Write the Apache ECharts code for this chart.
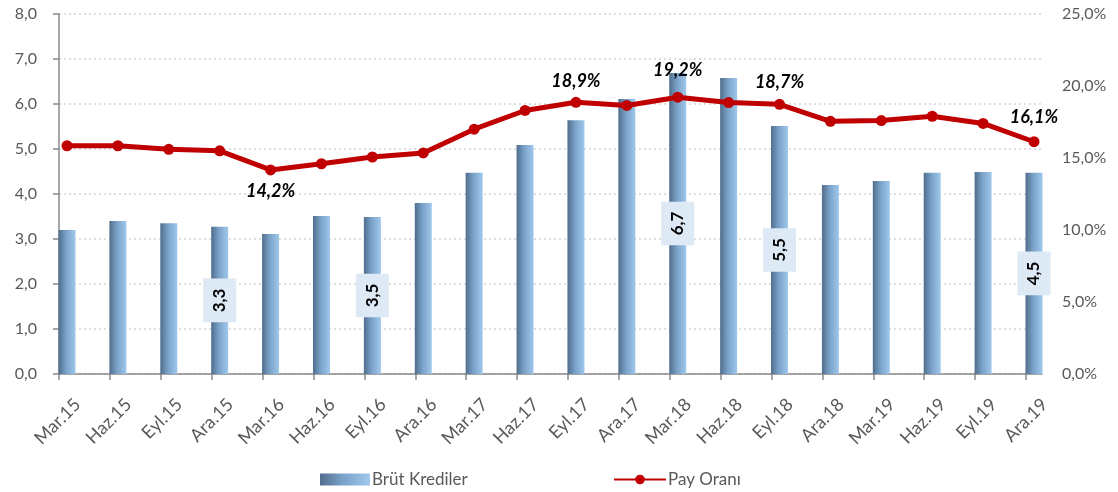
<!DOCTYPE html>
<html><head><meta charset="utf-8">
<script src="https://cdn.jsdelivr.net/npm/echarts@6/dist/echarts.min.js"></script>
<style>html,body{margin:0;padding:0;background:#fff}#c{width:1118px;height:492px}</style>
</head><body><div id="c"></div>
<script>
const categories = ['Mar.15','Haz.15','Eyl.15','Ara.15','Mar.16','Haz.16','Eyl.16','Ara.16','Mar.17','Haz.17','Eyl.17','Ara.17','Mar.18','Haz.18','Eyl.18','Ara.18','Mar.19','Haz.19','Eyl.19','Ara.19'];
const brutKrediler = [3.2,3.4,3.35,3.27,3.11,3.51,3.49,3.8,4.47,5.09,5.64,6.11,6.69,6.58,5.51,4.2,4.29,4.47,4.49,4.47];
const payOrani = [15.85,15.85,15.6,15.5,14.17,14.6,15.07,15.35,17.0,18.3,18.87,18.65,19.22,18.85,18.73,17.55,17.6,17.9,17.4,16.13];
const barLabelIdx = [3,6,12,14,19];
const lineLabelAbove = [10,12,14,19];
const lineLabelBelow = [4];
const seriesNames = ['Brüt Krediler','Pay Oranı'];

const FONT = 'Lato, "Open Sans", sans-serif';
const GRAY = '#595959';
const AXIS = '#898989';
const fmt1 = v => v.toFixed(1).replace('.', ',');

const barData = brutKrediler.map((v,i) => barLabelIdx.includes(i) ? {value: v, label: {show: true}} : v);
const labelDist = {4: 7, 10: 7, 12: 13, 14: 8, 19: 10};
const lineData = payOrani.map((v,i) => {
  if (lineLabelAbove.includes(i)) return {value: v, label: {show: true, position: 'top', distance: labelDist[i]}};
  if (lineLabelBelow.includes(i)) return {value: v, label: {show: true, position: 'bottom', distance: labelDist[i]}};
  return v;
});

// data grid (category points) and frame grid (axis lines, labels, gridlines)
const n = categories.length;
const dataLeft = 67, dataRight = 1034, frameLeft = 59, frameRight = 1042;
const step = (dataRight - dataLeft) / (n - 1);
const frameMax = (frameRight - frameLeft) / step;

const chart = echarts.init(document.getElementById('c'));
chart.setOption({
  animation: false,
  textStyle: {fontFamily: FONT},
  grid: [
    {left: dataLeft, right: 1118 - dataRight, top: 14, bottom: 118},
    {left: frameLeft, right: 1118 - frameRight, top: 14, bottom: 118}
  ],
  legend: [
    {left: 315, top: 466, itemWidth: 50, itemHeight: 12, itemGap: 5,
     textStyle: {color: GRAY, fontSize: 17, fontFamily: FONT, padding: [0,0,0,-3]},
     data: [{name: seriesNames[0], icon: 'rect'}]},
    {left: 608, top: 466, itemWidth: 52, itemHeight: 12,
     textStyle: {color: GRAY, fontSize: 17, fontFamily: FONT, padding: [0,0,0,-3]},
     data: [{name: seriesNames[1]}]}
  ],
  xAxis: [{
    type: 'category', data: categories, boundaryGap: false, gridIndex: 0,
    axisLine: {show: false}, axisTick: {show: false},
    axisLabel: {rotate: 45, color: GRAY, fontSize: 18, margin: 17, interval: 0,
      verticalAlign: 'top', lineHeight: 30}
  },{
    type: 'value', gridIndex: 1, min: 0, max: frameMax, interval: 1,
    axisLine: {show: true, lineStyle: {color: AXIS, width: 1.5}},
    axisTick: {show: true, length: 6, lineStyle: {color: AXIS, width: 1.5},
      customValues: categories.map((c,i) => i)},
    axisLabel: {show: false}, splitLine: {show: false}
  }],
  yAxis: [{
    type: 'value', gridIndex: 1, min: 0, max: 8, interval: 1,
    axisLine: {show: true, lineStyle: {color: AXIS, width: 1.5}},
    axisTick: {show: true, length: 6, lineStyle: {color: AXIS, width: 1.5}},
    axisLabel: {color: GRAY, fontSize: 16, margin: 22, formatter: v => fmt1(v)},
    splitLine: {lineStyle: {color: '#d3d3d3', type: [2,3], width: 1.5}}
  },{
    type: 'value', gridIndex: 1, min: 0, max: 25, interval: 5, position: 'right',
    axisLine: {show: false}, axisTick: {show: false},
    axisLabel: {color: GRAY, fontSize: 16, margin: 20, formatter: v => fmt1(v) + '%'},
    splitLine: {show: false}
  },{
    type: 'value', gridIndex: 0, min: 0, max: 8, interval: 1, show: false
  },{
    type: 'value', gridIndex: 0, min: 0, max: 25, interval: 5, show: false
  }],
  series: [{
    name: seriesNames[0], type: 'bar', data: barData, barWidth: 17, xAxisIndex: 0, yAxisIndex: 2,
    itemStyle: {color: new echarts.graphic.LinearGradient(0,0,1,0,[{offset:0,color:'#506d8b'},{offset:0.45,color:'#7aa2c9'},{offset:1,color:'#a0c8ec'}])},
    label: {show: false, position: 'inside', rotate: 90, color: '#000', fontWeight: 'bold', fontSize: 17,
      backgroundColor: '#dde9f5', padding: [8,10], formatter: p => fmt1(p.value)},
    z: 2
  },{
    name: seriesNames[1], type: 'line', data: lineData, xAxisIndex: 0, yAxisIndex: 3,
    symbol: 'circle', symbolSize: 11,
    lineStyle: {color: '#c00000', width: 5}, itemStyle: {color: '#c00000'},
    label: {show: false, color: '#000', fontWeight: 'bold', fontStyle: 'italic', fontSize: 18,
      formatter: p => fmt1(p.value) + '%'},
    z: 3
  }]
});
</script></body></html>
